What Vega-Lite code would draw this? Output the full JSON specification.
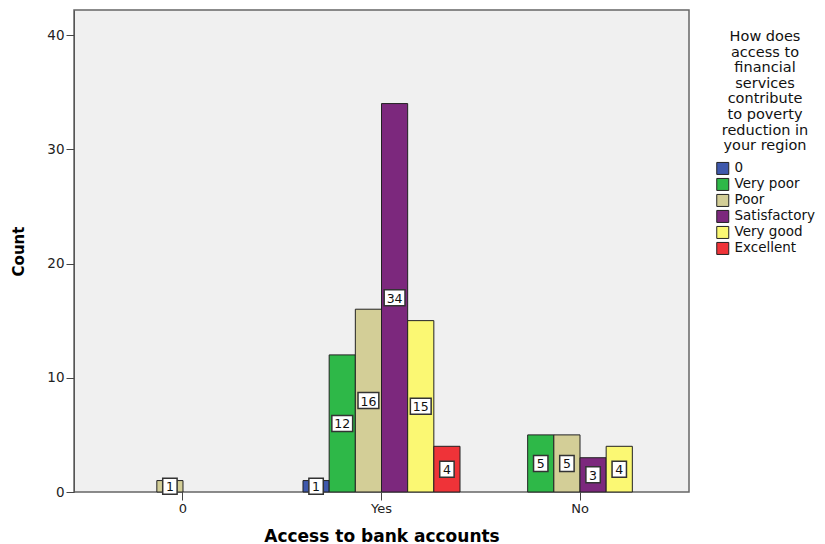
{
  "$schema": "https://vega.github.io/schema/vega-lite/v6.json",
  "width": 615,
  "height": 482,
  "autosize": {"type": "none"},
  "padding": {"left": 74, "top": 10, "right": 136, "bottom": 52},
  "background": "white",
  "config": {
    "view": {"fill": "#f0f0f0", "stroke": "#666666", "strokeWidth": 1.5},
    "font": "DejaVu Sans"
  },
  "data": {
    "values": [
      {"access": "0", "response": "Poor", "count": 1},
      {"access": "Yes", "response": "0", "count": 1},
      {"access": "Yes", "response": "Very poor", "count": 12},
      {"access": "Yes", "response": "Poor", "count": 16},
      {"access": "Yes", "response": "Satisfactory", "count": 34},
      {"access": "Yes", "response": "Very good", "count": 15},
      {"access": "Yes", "response": "Excellent", "count": 4},
      {"access": "No", "response": "Very poor", "count": 5},
      {"access": "No", "response": "Poor", "count": 5},
      {"access": "No", "response": "Satisfactory", "count": 3},
      {"access": "No", "response": "Very good", "count": 4}
    ]
  },
  "encoding": {
    "x": {
      "field": "access",
      "type": "nominal",
      "sort": ["0", "Yes", "No"],
      "scale": {"paddingInner": 0.209, "paddingOuter": 0.1536},
      "axis": {
        "title": "Access to bank accounts",
        "titleFont": "DejaVu Sans",
        "titleFontWeight": "bold",
        "titleFontSize": 17,
        "titlePadding": 13,
        "labelAngle": 0,
        "labelFont": "DejaVu Sans",
        "labelFontSize": 13,
        "labelColor": "#222222",
        "labelPadding": 2,
        "tickSize": 8,
        "tickColor": "#444444",
        "domain": false,
        "grid": false
      }
    },
    "xOffset": {
      "field": "response",
      "type": "nominal",
      "scale": {"domain": ["0", "Very poor", "Poor", "Satisfactory", "Very good", "Excellent"], "paddingInner": 0, "paddingOuter": 0}
    }
  },
  "layer": [
    {
      "mark": {"type": "bar", "stroke": "#222222", "strokeWidth": 1},
      "encoding": {
        "y": {
          "field": "count",
          "type": "quantitative",
          "scale": {"domain": [0, 42.19], "nice": false},
          "axis": {
            "title": "Count",
            "titleFont": "DejaVu Sans",
            "titleFontWeight": "bold",
            "titleFontSize": 15,
            "titlePadding": 20,
            "values": [0, 10, 20, 30, 40],
            "labelFont": "DejaVu Sans",
            "labelFontSize": 13.5,
            "labelColor": "#222222",
            "labelPadding": 2,
            "tickSize": 8,
            "tickColor": "#444444",
            "domainColor": "#555555",
            "grid": false
          }
        },
        "color": {
          "field": "response",
          "type": "nominal",
          "scale": {
            "domain": ["0", "Very poor", "Poor", "Satisfactory", "Very good", "Excellent"],
            "range": ["#3E58AC", "#2EB848", "#D3CE97", "#7C287D", "#FBF873", "#EF3338"]
          },
          "legend": {
            "title": ["How does", "access to", "financial", "services", "contribute", "to poverty", "reduction in", "your region"],
            "orient": "none",
            "legendX": 642,
            "legendY": 20,
            "titleFont": "DejaVu Sans",
            "titleFontWeight": "normal",
            "titleFontSize": 14.5,
            "titleLineHeight": 15.6,
            "titleAlign": "center",
            "titleAnchor": "middle",
            "titlePadding": 8,
            "titleColor": "#111111",
            "labelFont": "DejaVu Sans",
            "labelFontSize": 13.5,
            "labelColor": "#111111",
            "symbolType": "square",
            "symbolSize": 144,
            "symbolStrokeColor": "#222222",
            "symbolStrokeWidth": 1,
            "symbolOpacity": 1,
            "rowPadding": -1,
            "labelOffset": 5
          }
        }
      }
    },
    {
      "transform": [{"calculate": "datum.count / 2", "as": "mid"}],
      "mark": {"type": "point", "filled": true, "fill": "white", "stroke": "#333333", "strokeWidth": 1.5, "opacity": 1},
      "encoding": {
        "y": {"field": "mid", "type": "quantitative", "scale": {"domain": [0, 42.19], "nice": false}},
        "shape": {
          "condition": {"test": "datum.count >= 10", "value": "M-1.3,-1H1.3V1H-1.3Z"},
          "value": "M-0.9,-1H0.9V1H-0.9Z"
        },
        "size": {"value": 256}
      }
    },
    {
      "transform": [{"calculate": "datum.count / 2", "as": "mid"}],
      "mark": {"type": "text", "font": "DejaVu Sans", "fontSize": 12.5, "baseline": "middle", "align": "center", "color": "#111111", "dy": 1},
      "encoding": {
        "y": {"field": "mid", "type": "quantitative", "scale": {"domain": [0, 42.19], "nice": false}},
        "text": {"field": "count", "type": "quantitative"}
      }
    }
  ]
}
